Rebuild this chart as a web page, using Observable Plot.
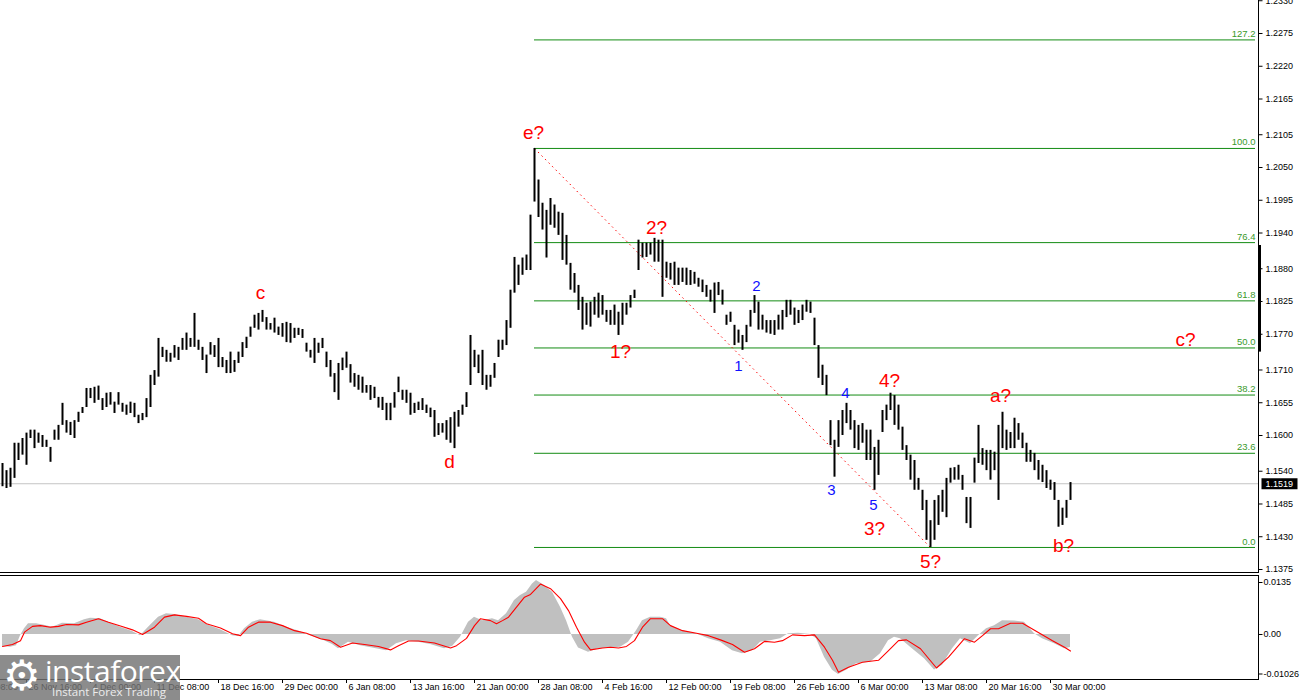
<!DOCTYPE html>
<html><head><meta charset="utf-8">
<script src="https://cdn.jsdelivr.net/npm/d3@7"></script>
<script src="https://cdn.jsdelivr.net/npm/@observablehq/plot@0.6"></script>
<style>
html,body{margin:0;padding:0;background:#fff;}
#wrap{position:relative;width:1300px;height:700px;overflow:hidden;background:#fff;}
#main{position:absolute;left:0;top:0;}
#macd{position:absolute;left:0;top:575px;}
#logo{position:absolute;left:0;top:655px;width:180px;height:45px;background:rgba(115,115,115,0.82);overflow:hidden;}
#logo .gear{position:absolute;left:3px;top:-3px;font:42px 'DejaVu Sans';color:#fff;line-height:48px;}
#logo .t1{position:absolute;left:45px;top:0px;font:30px 'Open Sans';color:#fff;letter-spacing:-0.5px;line-height:32px;}
#logo .t2{position:absolute;left:52px;top:30px;font:11.5px 'Open Sans';color:#ececec;line-height:14px;}
</style></head><body>
<div id="wrap"><div id="main"></div><div id="macd"></div>
<div id="logo"><span class="gear">⚙</span><span class="t1">instaforex</span><span class="t2">Instant Forex Trading</span></div></div>
<script>
// H4 price bars (every second bar), highs and lows
const highs = [1.1553,1.1541,1.1545,1.1587,1.1587,1.1595,1.1604,1.1609,1.1609,1.1604,
1.1600,1.1592,1.1580,1.1609,1.1617,1.1654,1.1625,1.1622,1.1625,1.1639,
1.1647,1.1679,1.1679,1.1681,1.1683,1.1662,1.1671,1.1672,1.1656,1.1672,
1.1654,1.1651,1.1656,1.1654,1.1634,1.1637,1.1662,1.1701,1.1709,1.1763,
1.1748,1.1743,1.1738,1.1751,1.1748,1.1763,1.1772,1.1763,1.1805,1.1760,
1.1748,1.1735,1.1756,1.1751,1.1763,1.1731,1.1726,1.1740,1.1726,1.1740,
1.1756,1.1765,1.1782,1.1802,1.1805,1.1810,1.1798,1.1788,1.1797,1.1782,
1.1788,1.1790,1.1788,1.1780,1.1780,1.1778,1.1755,1.1743,1.1763,1.1755,
1.1763,1.1740,1.1726,1.1704,1.1721,1.1730,1.1740,1.1719,1.1704,1.1701,
1.1698,1.1684,1.1684,1.1681,1.1664,1.1664,1.1654,1.1654,1.1672,1.1698,
1.1676,1.1676,1.1671,1.1654,1.1656,1.1662,1.1651,1.1646,1.1642,1.1620,
1.1620,1.1625,1.1630,1.1639,1.1642,1.1651,1.1672,1.1768,1.1743,1.1735,
1.1743,1.1701,1.1701,1.1721,1.1760,1.1760,1.1793,1.1844,1.1899,1.1886,
1.1898,1.1903,1.1970,1.2082,1.2029,1.1990,1.1978,1.1998,1.1987,1.1975,
1.1973,1.1936,1.1889,1.1872,1.1852,1.1832,1.1822,1.1824,1.1832,1.1839,
1.1835,1.1810,1.1810,1.1819,1.1807,1.1822,1.1822,1.1835,1.1844,1.1928,
1.1923,1.1923,1.1923,1.1931,1.1928,1.1928,1.1891,1.1889,1.1891,1.1881,
1.1881,1.1881,1.1877,1.1874,1.1864,1.1861,1.1852,1.1844,1.1856,1.1857,
1.1844,1.1802,1.1807,1.1785,1.1777,1.1768,1.1785,1.1810,1.1835,1.1824,
1.1802,1.1793,1.1793,1.1793,1.1802,1.1810,1.1827,1.1827,1.1814,1.1810,
1.1819,1.1827,1.1824,1.1797,1.1751,1.1718,1.1701,1.1625,1.1592,1.1625,
1.1642,1.1654,1.1642,1.1625,1.1617,1.1620,1.1609,1.1609,1.1580,1.1592,
1.1642,1.1651,1.1671,1.1667,1.1651,1.1614,1.1583,1.1567,1.1558,1.1528,
1.1508,1.1491,1.1457,1.1491,1.1499,1.1508,1.1528,1.1545,1.1546,1.1550,
1.1533,1.1496,1.1496,1.1562,1.1617,1.1578,1.1575,1.1575,1.1572,1.1617,
1.1639,1.1609,1.1605,1.1629,1.1620,1.1604,1.1587,1.1575,1.1570,1.1558,
1.1550,1.1541,1.1525,1.1521,1.1491,1.1478,1.1491,1.1521];
const lows = [1.1514,1.1511,1.1513,1.1528,1.1558,1.1567,1.1550,1.1595,1.1578,1.1587,
1.1580,1.1580,1.1555,1.1592,1.1592,1.1617,1.1604,1.1600,1.1595,1.1622,
1.1637,1.1647,1.1662,1.1654,1.1659,1.1642,1.1647,1.1651,1.1637,1.1651,
1.1639,1.1634,1.1637,1.1630,1.1620,1.1625,1.1630,1.1647,1.1684,1.1698,
1.1731,1.1723,1.1723,1.1730,1.1726,1.1743,1.1743,1.1748,1.1748,1.1743,
1.1726,1.1704,1.1735,1.1731,1.1714,1.1714,1.1704,1.1704,1.1706,1.1721,
1.1731,1.1746,1.1765,1.1780,1.1777,1.1790,1.1777,1.1777,1.1772,1.1768,
1.1765,1.1756,1.1755,1.1763,1.1768,1.1763,1.1740,1.1730,1.1721,1.1738,
1.1746,1.1714,1.1698,1.1672,1.1659,1.1709,1.1713,1.1688,1.1681,1.1676,
1.1671,1.1671,1.1659,1.1662,1.1646,1.1642,1.1625,1.1625,1.1646,1.1672,
1.1659,1.1654,1.1634,1.1637,1.1642,1.1642,1.1637,1.1630,1.1597,1.1600,
1.1604,1.1592,1.1587,1.1578,1.1614,1.1634,1.1647,1.1684,1.1714,1.1704,
1.1684,1.1676,1.1681,1.1696,1.1731,1.1743,1.1751,1.1780,1.1839,1.1852,
1.1869,1.1877,1.1877,1.1992,1.1966,1.1945,1.1898,1.1953,1.1948,1.1936,
1.1894,1.1886,1.1844,1.1839,1.1810,1.1777,1.1785,1.1782,1.1802,1.1797,
1.1802,1.1790,1.1785,1.1785,1.1768,1.1785,1.1802,1.1814,1.1830,1.1877,
1.1898,1.1899,1.1903,1.1891,1.1891,1.1832,1.1864,1.1861,1.1852,1.1852,
1.1857,1.1852,1.1852,1.1854,1.1849,1.1840,1.1832,1.1824,1.1805,1.1835,
1.1819,1.1785,1.1790,1.1751,1.1755,1.1743,1.1756,1.1782,1.1805,1.1777,
1.1777,1.1772,1.1770,1.1768,1.1777,1.1777,1.1798,1.1802,1.1785,1.1788,
1.1793,1.1807,1.1805,1.1751,1.1696,1.1684,1.1667,1.1583,1.1530,1.1580,
1.1600,1.1620,1.1609,1.1578,1.1575,1.1587,1.1558,1.1558,1.1508,1.1533,
1.1605,1.1625,1.1642,1.1617,1.1609,1.1575,1.1558,1.1525,1.1508,1.1508,
1.1474,1.1424,1.1412,1.1424,1.1449,1.1471,1.1462,1.1520,1.1525,1.1525,
1.1508,1.1452,1.1444,1.1520,1.1553,1.1550,1.1541,1.1525,1.1541,1.1491,
1.1578,1.1575,1.1578,1.1578,1.1592,1.1578,1.1555,1.1555,1.1541,1.1525,
1.1521,1.1511,1.1508,1.1491,1.1446,1.1449,1.1461,1.1491];
const lastClose = 1.1519;

// MACD (H4 bar number, value)
const histBar = [0,4,7,9,11,13,17,22,25,30,36,41,44,49,53,59,65,69,73,78,82,86,92,98,102,109,115,118,121,125,129,136,142,148,154,161,165,168,173,179,185,192,197,202,208,214,221,225,229,233,236,240,245,248,252,256,259,262,265,267,271,275,279,282,285,288,293,298,304,309,313,317,320,324,329,332,334,340,347,353,359,365,370,375,379,384,389,393,398,404,407,411,415,418,422,427,434,439,443,446,449,454,461,466,470,475,479,484,488,492,496,500,506,511,516,520,526,531,534];
const histVal = [-0.0031,-0.0033,-0.0029,-0.0003,0.0015,0.0028,0.0028,0.0023,0.0019,0.0029,
0.0028,0.0038,0.0042,0.0041,0.0032,0.0019,0.0008,-0.0003,0.0019,0.0045,
0.0054,0.0052,0.0045,0.0038,0.0026,0.0012,-0.0003,-0.0005,0.0015,0.0032,
0.0038,0.0032,0.0019,0.0009,-0.0003,-0.0016,-0.0026,-0.0037,-0.0020,-0.0029,
-0.0035,-0.0042,-0.0024,-0.0016,-0.0020,-0.0026,-0.0037,-0.0031,-0.0007,0.0032,
0.0045,0.0036,0.0041,0.0036,0.0054,0.0088,0.0101,0.0110,0.0131,0.0140,
0.0127,0.0110,0.0071,0.0036,-0.0007,-0.0035,-0.0046,-0.0037,-0.0035,-0.0033,
-0.0020,0.0010,0.0036,0.0045,0.0045,0.0041,0.0023,0.0010,0.0002,-0.0011,
-0.0020,-0.0042,-0.0050,-0.0042,-0.0020,-0.0016,-0.0011,0.0002,0.0003,0.0000,
-0.0011,-0.0059,-0.0093,-0.0104,-0.0093,-0.0076,-0.0072,-0.0050,-0.0016,-0.0007,
-0.0011,-0.0033,-0.0063,-0.0092,-0.0080,-0.0037,-0.0011,-0.0024,-0.0003,0.0015,
0.0023,0.0036,0.0035,0.0032,0.0002,-0.0011,-0.0024,-0.0037,-0.0034];
const sigBar = [0,5,9,11,15,19,24,28,32,38,42,48,53,59,65,70,76,81,86,92,98,102,109,115,119,123,128,134,140,146,152,159,164,169,175,181,188,194,198,203,208,216,224,227,232,236,239,244,247,250,253,257,261,264,269,274,279,283,287,291,294,300,304,308,312,316,320,324,330,334,340,347,353,359,365,371,376,381,386,390,395,401,406,411,415,418,423,430,438,443,448,452,459,467,473,481,486,490,494,498,504,510,519,525,531,534];
const sigVal = [-0.0031,-0.0026,-0.0016,0.0006,0.0021,0.0023,0.0019,0.0021,0.0026,0.0025,
0.0032,0.0041,0.0032,0.0022,0.0012,0.0000,0.0019,0.0045,0.0051,0.0047,
0.0042,0.0028,0.0017,0.0002,-0.0003,0.0019,0.0032,0.0032,0.0023,0.0010,
0.0003,-0.0011,-0.0016,-0.0033,-0.0022,-0.0026,-0.0031,-0.0040,-0.0029,-0.0017,
-0.0017,-0.0022,-0.0035,-0.0029,-0.0010,0.0023,0.0041,0.0036,0.0028,0.0036,
0.0045,0.0071,0.0097,0.0104,0.0131,0.0119,0.0093,0.0062,0.0019,-0.0020,
-0.0040,-0.0035,-0.0033,-0.0035,-0.0031,-0.0016,0.0019,0.0041,0.0041,0.0023,
0.0010,0.0003,-0.0003,-0.0014,-0.0026,-0.0046,-0.0037,-0.0018,-0.0020,-0.0016,
-0.0001,-0.0003,-0.0001,-0.0033,-0.0067,-0.0098,-0.0085,-0.0072,-0.0067,-0.0042,
-0.0016,-0.0014,-0.0037,-0.0087,-0.0059,-0.0011,-0.0020,-0.0003,0.0015,0.0015,
0.0029,0.0029,0.0002,-0.0016,-0.0033,-0.0043];

// axes
const priceTicks = [1.2330,1.2275,1.2220,1.2165,1.2105,1.2050,1.1995,1.1940,1.1880,1.1825,1.1770,1.1710,1.1655,1.1600,1.1540,1.1485,1.1430,1.1375];
const macdTicks = [0.0135, 0, -0.01026];
const macdTickLabels = ["0.0135","0.00","-0.01026"];
const dateTickBar = [-20,12,44,76,108,140,172,204,236,268,300,332,364,396,428,460,492,524];
const dateLabels = ["19 Nov 08:00","26 Nov 16:00","4 Dec 00:00","11 Dec 08:00","18 Dec 16:00","29 Dec 00:00","6 Jan 08:00","13 Jan 16:00","21 Jan 00:00","28 Jan 08:00","4 Feb 16:00","12 Feb 00:00","19 Feb 08:00","26 Feb 16:00","6 Mar 00:00","13 Mar 08:00","20 Mar 16:00","30 Mar 00:00"];

// Fibonacci levels
const fibLevels = [0, 23.6, 38.2, 50, 61.8, 76.4, 100, 127.2];
const fibLabels = ["0.0","23.6","38.2","50.0","61.8","76.4","100.0","127.2"];

// wave labels
const redWaveText = ["e?","2?","1?","c","d","4?","3?","5?","a?","b?","c?"];
const redWaveBar = [265.5,327,309,129,223.5,443.5,436,464,499,530.5,591.5];
const redWavePrice = [1.2108,1.1948,1.1740,1.1839,1.1555,1.1691,1.1444,1.1387,1.1666,1.1415,1.1760];
const blueWaveText = ["2","1","4","3","5"];
const blueWaveBar = [377,368,421.5,414.5,435.5];
const blueWavePrice = [1.1851,1.1716,1.1671,1.1508,1.1483];
const markerTop = 1.1919, markerBottom = 1.1740;

const bars = highs.map((h, k) => ({n: k * 2, hi: h, lo: lows[k]}));
const peakK = highs.indexOf(d3.max(highs));
const lowK = lows.indexOf(d3.min(lows));
const fibHigh = highs[peakK], fibLow = lows[lowK];
const fib = fibLevels.map((l, i) => ({price: fibLow + (fibHigh - fibLow) * l / 100, label: fibLabels[i]}));
const hist = histBar.map((n, i) => ({n, v: histVal[i]}));
const sig = sigBar.map((n, i) => ({n, v: sigVal[i]}));
const xDomain = [-1, 628];
const xEnd = 626.5;
const axisFont = "'Liberation Sans', Arial, sans-serif";

const mainChart = Plot.plot({
  width: 1300, height: 575,
  marginLeft: 0, marginRight: 42, marginTop: 0, marginBottom: 3,
  x: {domain: xDomain, axis: null},
  y: {domain: [1.1375, 1.2275], range: [569, 33], axis: null},
  style: {fontFamily: axisFont, fontSize: "9px", background: "white"},
  marks: [
    Plot.ruleY([lastClose], {stroke: "#c4c4c4"}),
    Plot.ruleY(fib, {y: "price", x1: bars[peakK].n, x2: xEnd, stroke: "#148c14"}),
    Plot.text(fib, {x: xEnd, y: "price", text: "label", textAnchor: "end", dy: -6, fill: "#3a9a2a", fontSize: 9.5}),
    Plot.link([0], {x1: bars[peakK].n, y1: fibHigh, x2: bars[lowK].n, y2: fibLow, stroke: "#ff0000", strokeDasharray: "1.5,3.5"}),
    Plot.ruleX(bars, {x: "n", y1: "lo", y2: "hi", stroke: "black", strokeWidth: 2}),
    Plot.text(redWaveText, {x: (d, i) => redWaveBar[i], y: (d, i) => redWavePrice[i], text: d => d, fill: "#ff0000", fontSize: 19, fontFamily: "'Liberation Sans', Arial, sans-serif"}),
    Plot.text(blueWaveText, {x: (d, i) => blueWaveBar[i], y: (d, i) => blueWavePrice[i], text: d => d, fill: "#1010ff", fontSize: 15, fontFamily: "'Liberation Sans', Arial, sans-serif"}),
    Plot.frame({anchor: "right", stroke: "black"}),
    Plot.frame({anchor: "bottom", stroke: "black"}),
    Plot.ruleX([xDomain[1]], {y1: markerTop, y2: markerBottom, stroke: "black", strokeWidth: 3, dx: 1}),
    Plot.link(priceTicks, {x1: xDomain[1], x2: xDomain[1] + 2, y1: d => d, y2: d => d, stroke: "black"}),
    Plot.text(priceTicks, {x: xDomain[1], y: d => d, text: d => d.toFixed(4), dx: 7, textAnchor: "start", fill: "black"}),
    Plot.link([lastClose], {x1: xDomain[1] + 1.5, x2: xDomain[1] + 19.5, y1: d => d, y2: d => d, stroke: "black", strokeWidth: 11}),
    Plot.text([lastClose], {x: xDomain[1], y: d => d, text: d => d.toFixed(4), dx: 7, textAnchor: "start", fill: "white"})
  ]
});
document.getElementById("main").appendChild(mainChart);

const macdChart = Plot.plot({
  width: 1300, height: 125,
  marginLeft: 0, marginRight: 42, marginTop: 0, marginBottom: 21,
  x: {domain: xDomain, label: null},
  y: {domain: [-0.01026, 0.0135], range: [98.5, 7], axis: null},
  style: {fontFamily: axisFont, fontSize: "9px", background: "white"},
  marks: [
    Plot.areaY(hist, {x: "n", y: "v", fill: "#c0c0c0"}),
    Plot.line(sig, {x: "n", y: "v", stroke: "#ff0000", strokeWidth: 1.1}),
    Plot.frame({anchor: "top", stroke: "black"}),
    Plot.frame({anchor: "bottom", stroke: "black"}),
    Plot.frame({anchor: "right", stroke: "black"}),
    Plot.link(macdTicks, {x1: xDomain[1], x2: xDomain[1] + 2, y1: d => d, y2: d => d, stroke: "black"}),
    Plot.text(macdTicks, {x: xDomain[1], y: d => d, text: (d, i) => macdTickLabels[i], dx: 5, textAnchor: "start", fill: "black"}),
    Plot.axisX(dateTickBar, {anchor: "bottom", tickSize: 4, tickFormat: () => "", label: null}),
    Plot.text(dateTickBar, {x: d => d, frameAnchor: "bottom", dy: 10, dx: 2, text: (d, i) => dateLabels[i], textAnchor: "start", fill: "black"})
  ]
});
document.getElementById("macd").appendChild(macdChart);
</script>
</body></html>
